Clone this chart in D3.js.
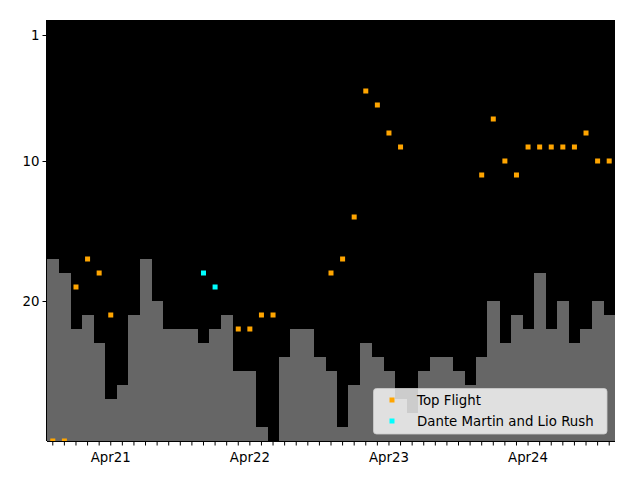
<!DOCTYPE html>
<html>
<head>
<meta charset="utf-8">
<script src="https://cdn.jsdelivr.net/npm/d3@7"></script>
<style>
  html, body { margin: 0; padding: 0; background: #ffffff; }
  svg { display: block; }
  text { font-family: "DejaVu Sans", sans-serif; }
</style>
</head>
<body>
<script>
// ---------- data ----------
const months = [
  "2020-11","2020-12",
  "2021-01","2021-02","2021-03","2021-04","2021-05","2021-06","2021-07","2021-08","2021-09","2021-10","2021-11","2021-12",
  "2022-01","2022-02","2022-03","2022-04","2022-05","2022-06","2022-07","2022-08","2022-09","2022-10","2022-11","2022-12",
  "2023-01","2023-02","2023-03","2023-04","2023-05","2023-06","2023-07","2023-08","2023-09","2023-10","2023-11","2023-12",
  "2024-01","2024-02","2024-03","2024-04","2024-05","2024-06","2024-07","2024-08","2024-09","2024-10","2024-11"
];
const tickLabels = {"2021-04":"Apr21","2022-04":"Apr22","2023-04":"Apr23","2024-04":"Apr24"};
const yTicks = [1, 10, 20];

// gray background step bars (rank level per month)
const barRanks = [17,18,22,21,23,27,26,21,17,20,22,22,22,23,22,21,25,25,29,30,24,22,22,24,25,29,26,23,24,25,27,28,25,24,24,25,26,24,20,23,21,22,18,22,20,23,22,20,21];

const topFlight = [30,30,19,17,18,21,null,null,null,null,null,null,null,null,null,null,22,22,21,21,null,null,null,null,18,17,14,5,6,8,9,null,null,null,null,null,null,11,7,10,11,9,9,9,9,9,8,10,10];
const danteLio  = [null,null,null,null,null,null,null,null,null,null,null,null,null,18,19,null,null,null,null,null,null,null,null,null,null,null,null,null,null,null,null,null,null,null,null,null,null,null,null,null,null,null,null,null,null,null,null,null,null];

const seriesNames = ["Top Flight", "Dante Martin and Lio Rush"];
const seriesColors = ["#ffa500", "#00ffff"];

// ---------- layout ----------
const W = 640, H = 480;
const pL = 47, pR = 615, pT = 20, pB = 441;

const svg = d3.select("body").append("svg").attr("width", W).attr("height", H);

const x = d3.scaleBand().domain(months).range([pL, pR]).padding(0);
const y = d3.scaleLinear().domain([1, 30]).range([35, 441]);

svg.append("defs").append("clipPath").attr("id", "clip")
  .append("rect").attr("x", pL).attr("y", pT).attr("width", pR - pL).attr("height", pB - pT);

// axes background
svg.append("rect").attr("x", pL).attr("y", pT).attr("width", pR - pL).attr("height", pB - pT).attr("fill", "#000000");

const plot = svg.append("g").attr("clip-path", "url(#clip)");

// bars
plot.selectAll("rect.bar").data(months).enter().append("rect")
  .attr("class", "bar")
  .attr("x", d => x(d))
  .attr("width", x.bandwidth() + 0.5)
  .attr("y", (d, i) => y(barRanks[i]))
  .attr("height", (d, i) => Math.max(0, y(30) - y(barRanks[i])))
  .attr("fill", "#666666")
  .attr("shape-rendering", "crispEdges");

// points
const ms = 5;
[topFlight, danteLio].forEach((vals, si) => {
  const pts = months.map((m, i) => ({m, v: vals[i]})).filter(d => d.v !== null);
  plot.selectAll(null).data(pts).enter().append("rect")
    .attr("x", d => x(d.m) + x.bandwidth() / 2 - ms / 2)
    .attr("y", d => y(d.v) - ms / 2)
    .attr("width", ms).attr("height", ms)
    .attr("fill", seriesColors[si]);
});

// x axis
const xAxis = d3.axisBottom(x).tickSizeOuter(0).tickSize(4.5).tickPadding(7)
  .tickFormat(d => tickLabels[d] || "");
const gx = svg.append("g").attr("transform", `translate(0,${pB})`).call(xAxis);
gx.select(".domain").attr("stroke", "#000").attr("d", `M${pL},0.5H${pR}`);
gx.selectAll("text").attr("font-size", "13.33px").attr("fill", "#000").attr("font-family", "DejaVu Sans, sans-serif");

// y axis
const yAxis = d3.axisLeft(y).tickValues(yTicks).tickSize(4.5).tickPadding(3).tickSizeOuter(0);
const gy = svg.append("g").attr("transform", `translate(${pL},0)`).call(yAxis);
gy.select(".domain").attr("stroke", "#000").attr("d", `M-0.5,${pT}V${pB}`);
gy.selectAll("text").attr("font-size", "13.33px").attr("fill", "#000").attr("font-family", "DejaVu Sans, sans-serif");

// legend
const lg = svg.append("g");
lg.append("rect").attr("x", 373.5).attr("y", 388.5).attr("width", 233.5).attr("height", 45.5)
  .attr("rx", 3).attr("ry", 3)
  .attr("fill", "#ffffff").attr("fill-opacity", 0.8)
  .attr("stroke", "#cccccc").attr("stroke-opacity", 0.8).attr("stroke-width", 1);
seriesNames.forEach((name, i) => {
  const cy = 400 + i * 21;
  lg.append("rect").attr("x", 392 - ms / 2).attr("y", cy - ms / 2).attr("width", ms).attr("height", ms).attr("fill", seriesColors[i]);
  lg.append("text").attr("x", 417).attr("y", cy).attr("dy", "0.35em")
    .attr("font-size", "13.33px").attr("fill", "#000").text(name);
});
</script>
</body>
</html>
